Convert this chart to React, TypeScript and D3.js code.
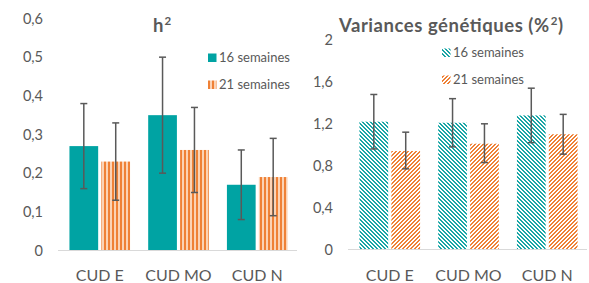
import React from "react";
import { scaleBand, scaleLinear } from "d3";

const categories = ["CUD E", "CUD MO", "CUD N"];
const series = ["16 semaines", "21 semaines"];

// h² panel
const h2Week16 = [0.27, 0.35, 0.17];
const h2Week16Low = [0.16, 0.2, 0.08];
const h2Week16High = [0.38, 0.5, 0.26];
const h2Week21 = [0.23, 0.26, 0.19];
const h2Week21Low = [0.13, 0.15, 0.09];
const h2Week21High = [0.33, 0.37, 0.29];
const h2Ticks = [0, 0.1, 0.2, 0.3, 0.4, 0.5, 0.6];

// variances panel
const varWeek16 = [1.22, 1.21, 1.28];
const varWeek16Low = [0.96, 0.98, 1.02];
const varWeek16High = [1.48, 1.44, 1.54];
const varWeek21 = [0.94, 1.01, 1.1];
const varWeek21Low = [0.77, 0.83, 0.91];
const varWeek21High = [1.12, 1.2, 1.29];
const varTicks = [0, 0.4, 0.8, 1.2, 1.6, 2];

const FONT = "Lato, 'Open Sans', sans-serif";
const TEXT = "#595959";
const TEAL = "#00A3A3";
const ORANGE = "#EF8136";

const fmt = (v: number) => String(+v.toFixed(2)).replace(".", ",");

type Panel = {
  title: string;
  titleWidth?: number;
  fills: string[];
  values: number[][];
  lows: number[][];
  highs: number[][];
  ticks: number[];
  x: [number, number];
  y: [number, number];
  tickX: number;
  titleX: number;
  legendX: number;
  legendY: number[];
};

function ChartPanel({ p }: { p: Panel }) {
  const max = p.ticks[p.ticks.length - 1];
  const yScale = scaleLinear().domain([0, max]).range(p.y);
  const x0 = scaleBand()
    .domain(categories)
    .range(p.x)
    .paddingInner(0.23)
    .paddingOuter(0.12);
  const x1 = scaleBand()
    .domain(series)
    .range([0, x0.bandwidth()])
    .paddingInner(0.1);

  // title: last "²" drawn as a raised small 2, like the Calibri glyph
  const base = p.title.replace(/²\)?$/, "");
  const tail = p.title.endsWith(")") ? ")" : "";

  return (
    <g fontFamily={FONT}>
      <text
        x={p.titleX}
        y={32}
        textAnchor="middle"
        fontSize={18.5}
        fontWeight="bold"
        fill={TEXT}
        textLength={p.titleWidth}
        lengthAdjust={p.titleWidth ? "spacing" : undefined}
      >
        {base}
        <tspan fontSize={11.5} dy={-7} dx={1}>
          2
        </tspan>
        {tail && <tspan dy={7}>{tail}</tspan>}
      </text>

      {/* y tick labels */}
      {p.ticks.map((t) => (
        <text
          key={t}
          x={p.tickX}
          y={yScale(t)}
          dy="0.36em"
          textAnchor="end"
          fontSize={14.5}
          fill={TEXT}
        >
          {fmt(t)}
        </text>
      ))}

      {/* bars */}
      {series.map((s, si) =>
        categories.map((c, ci) => {
          const v = p.values[si][ci];
          return (
            <rect
              key={s + c}
              x={x0(c)! + x1(s)!}
              y={yScale(v)}
              width={x1.bandwidth()}
              height={yScale(0) - yScale(v)}
              fill={p.fills[si]}
            />
          );
        })
      )}

      <line
        x1={p.x[0] - 2}
        x2={p.x[1]}
        y1={yScale(0)}
        y2={yScale(0)}
        stroke="#D9D9D9"
        strokeWidth={1}
      />

      {/* error bars */}
      {series.map((s, si) =>
        categories.map((c, ci) => {
          const cx = x0(c)! + x1(s)! + x1.bandwidth() / 2;
          const lo = yScale(p.lows[si][ci]);
          const hi = yScale(p.highs[si][ci]);
          return (
            <g key={"e" + s + c} stroke="#595959" strokeWidth={1.5}>
              <line x1={cx} x2={cx} y1={lo} y2={hi} />
              <line x1={cx - 3.5} x2={cx + 3.5} y1={lo} y2={lo} />
              <line x1={cx - 3.5} x2={cx + 3.5} y1={hi} y2={hi} />
            </g>
          );
        })
      )}

      {/* category labels */}
      {categories.map((c) => (
        <text
          key={c}
          x={x0(c)! + x0.bandwidth() / 2}
          y={281}
          textAnchor="middle"
          fontSize={16}
          fill={TEXT}
        >
          {c}
        </text>
      ))}

      {/* legend */}
      {series.map((s, si) => (
        <g key={"l" + s}>
          <rect
            x={p.legendX - 11}
            y={p.legendY[si] - 8.5}
            width={8.5}
            height={8.5}
            fill={p.fills[si]}
          />
          <text
            x={p.legendX}
            y={p.legendY[si]}
            fontSize={13}
            fill={TEXT}
          >
            {s}
          </text>
        </g>
      ))}
    </g>
  );
}

export default function App() {
  const left: Panel = {
    title: "h²",
    fills: [TEAL, "url(#vert)"],
    values: [h2Week16, h2Week21],
    lows: [h2Week16Low, h2Week21Low],
    highs: [h2Week16High, h2Week21High],
    ticks: h2Ticks,
    x: [60, 297],
    y: [250.5, 18.5],
    tickX: 43,
    titleX: 162,
    legendX: 219,
    legendY: [62, 89],
  };
  const right: Panel = {
    title: "Variances génétiques (%²)",
    titleWidth: 224,
    fills: ["url(#diagTeal)", "url(#diagOrange)"],
    values: [varWeek16, varWeek21],
    lows: [varWeek16Low, varWeek21Low],
    highs: [varWeek16High, varWeek21High],
    ticks: varTicks,
    x: [350, 587],
    y: [249.5, 40],
    tickX: 333,
    titleX: 451,
    legendX: 453,
    legendY: [57, 84],
  };

  return (
    <div>
      <style>{`body{margin:0}`}</style>
      <svg width={589} height={283} style={{ display: "block", background: "#fff" }}>
        <defs>
          <pattern id="vert" patternUnits="userSpaceOnUse" width={4} height={4}>
            <rect width={4} height={4} fill="#FBD3B5" />
            <rect x={0} width={2} height={4} fill={ORANGE} />
          </pattern>
          <pattern id="diagTeal" patternUnits="userSpaceOnUse" width={4} height={4}>
            <rect width={4} height={4} fill="#fff" />
            <path
              d="M0,0h2v1h-2zM1,1h2v1h-2zM2,2h2v1h-2zM3,3h1v1h-1zM0,3h1v1h-1z"
              fill="#1AA6A6"
            />
          </pattern>
          <pattern id="diagOrange" patternUnits="userSpaceOnUse" width={4} height={4}>
            <rect width={4} height={4} fill="#fff" />
            <path
              d="M2,0h2v1h-2zM1,1h2v1h-2zM0,2h2v1h-2zM3,3h1v1h-1zM0,3h1v1h-1z"
              fill={ORANGE}
            />
          </pattern>
        </defs>
        <ChartPanel p={left} />
        <ChartPanel p={right} />
      </svg>
    </div>
  );
}
